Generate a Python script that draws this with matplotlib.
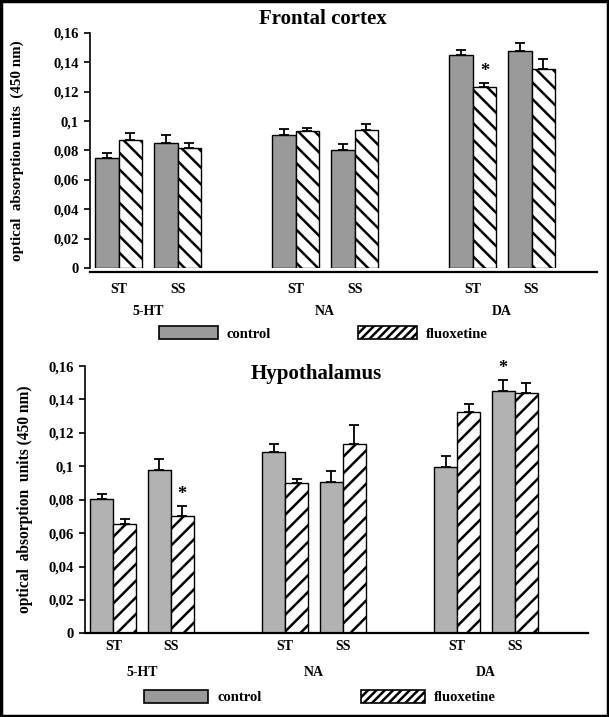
import matplotlib
matplotlib.use('Agg')
import matplotlib.pyplot as plt
from matplotlib.patches import Patch, Rectangle
import numpy as np

plt.rcParams['font.family'] = ['Liberation Serif', 'DejaVu Serif']
plt.rcParams['font.weight'] = 'bold'
plt.rcParams['axes.labelweight'] = 'bold'
plt.rcParams['hatch.linewidth'] = 1.8

# categories
transmitters = ['5-HT', 'NA', 'DA']
regions = ['ST', 'SS']
yticks = [0, 0.02, 0.04, 0.06, 0.08, 0.1, 0.12, 0.14, 0.16]
ytick_labels = ['0', '0,02', '0,04', '0,06', '0,08', '0,1', '0,12', '0,14', '0,16']

# frontal cortex (order: 5-HT ST, 5-HT SS, NA ST, NA SS, DA ST, DA SS)
fc_control = [0.0752, 0.0853, 0.0905, 0.0802, 0.1448, 0.1480]
fc_control_err = [0.0030, 0.0050, 0.0040, 0.0045, 0.0038, 0.0050]
fc_fluox = [0.0870, 0.0818, 0.0930, 0.0938, 0.1235, 0.1356]
fc_fluox_err = [0.0052, 0.0030, 0.0023, 0.0043, 0.0025, 0.0068]
fc_stars = [None, None, None, None, 'fluox', None]

# hypothalamus
hy_control = [0.0802, 0.0975, 0.1088, 0.0903, 0.0995, 0.1450]
hy_control_err = [0.0034, 0.0066, 0.0046, 0.0066, 0.0066, 0.0065]
hy_fluox = [0.0652, 0.0705, 0.0902, 0.1133, 0.1325, 0.1438]
hy_fluox_err = [0.0033, 0.0058, 0.0022, 0.0115, 0.0050, 0.0060]
hy_stars = [None, 'fluox', None, None, None, 'control']

pos = np.array([g * 3 + r for g in range(len(transmitters)) for r in range(len(regions))], dtype=float)
width = 0.4


def draw_panel(ax, title, control, control_err, fluox, fluox_err, stars,
               ctrl_color, hatch, ylabel, xlim, tick_pad, group_y, title_y, label_size):
    ekw = dict(ecolor='black', elinewidth=1.3, capsize=3.5, capthick=1.3)
    ax.bar(pos - width / 2, control, width, color=ctrl_color, edgecolor='black', linewidth=1.0,
           yerr=[np.zeros(len(control)), control_err], error_kw=ekw, zorder=2)
    ax.bar(pos + width / 2, fluox, width, color='white', edgecolor='black', linewidth=1.0,
           hatch=hatch, yerr=[np.zeros(len(fluox)), fluox_err], error_kw=ekw, zorder=2)
    for i, s in enumerate(stars):
        if s == 'fluox':
            ax.text(pos[i] + width / 2, fluox[i] + fluox_err[i] + 0.002, '*', ha='center', va='bottom', fontsize=13)
        elif s == 'control':
            ax.text(pos[i] - width / 2, control[i] + control_err[i] + 0.002, '*', ha='center', va='bottom', fontsize=13)

    ax.set_xlim(*xlim)
    ax.set_ylim(0, 0.16)
    ax.set_yticks(yticks)
    ax.set_yticklabels(ytick_labels, fontsize=10.5)
    ax.set_xticks(pos)
    ax.set_xticklabels(regions * len(transmitters), fontsize=10)
    ax.tick_params(axis='x', length=0, pad=tick_pad)
    ax.tick_params(axis='y', length=4, width=1.2, direction='out', pad=4)
    for sp in ['top', 'right']:
        ax.spines[sp].set_visible(False)
    ax.spines['left'].set_linewidth(1.2)
    ax.spines['bottom'].set_linewidth(1.6)
    ax.set_ylabel(ylabel, fontsize=label_size, fontweight='bold')
    for g, name in enumerate(transmitters):
        ax.text(g * 3 + 0.5, group_y, name, ha='center', va='center', fontsize=10,
                transform=ax.get_xaxis_transform())
    ax.text(0.46, title_y, title, ha='center', va='center', fontsize=15, transform=ax.transAxes)


fig = plt.figure(figsize=(6.09, 7.17), dpi=100)

ax1 = fig.add_axes([0.1478, 0.6262, 0.8325, 0.3278])
draw_panel(ax1, 'Frontal cortex', fc_control, fc_control_err, fc_fluox, fc_fluox_err, fc_stars,
           '#9a9a9a', '\\\\', 'optical  absorption units  (450 nm)', (-0.485, 8.11), 8, -0.183, 1.06, 10.8)
ax1.spines['bottom'].set_position(('outward', 3))
ax1.yaxis.set_label_coords(-0.13, 0.5)

ax2 = fig.add_axes([0.139, 0.1167, 0.8265, 0.3728])
draw_panel(ax2, 'Hypothalamus', hy_control, hy_control_err, hy_fluox, hy_fluox_err, hy_stars,
           '#b2b2b2', '//', 'optical  absorption  units (450 nm)', (-0.50, 8.28), 5, -0.145, 0.97, 11.2)
ax2.yaxis.set_label_coords(-0.103, 0.5)

leg_kw = dict(loc='center', ncol=2, frameon=False, fontsize=10.5, handlelength=4.0, handleheight=1.0,
              handletextpad=0.6, columnspacing=6.0)
fig.legend(handles=[Patch(facecolor='#9a9a9a', edgecolor='black', linewidth=1.2, label='control'),
                    Patch(facecolor='white', edgecolor='black', linewidth=1.2, hatch='////', label='fluoxetine')],
           bbox_to_anchor=(0.531, 0.535), **leg_kw)
leg_kw['columnspacing'] = 6.8
leg_kw['handlelength'] = 4.4
fig.legend(handles=[Patch(facecolor='#9a9a9a', edgecolor='black', linewidth=1.2, label='control'),
                    Patch(facecolor='white', edgecolor='black', linewidth=1.2, hatch='////', label='fluoxetine')],
           bbox_to_anchor=(0.525, 0.028), **leg_kw)

fig.patches.append(Rectangle((0.002, 0.002), 0.996, 0.996, transform=fig.transFigure,
                             fill=False, edgecolor='black', linewidth=2.5))

fig.savefig('out.png', dpi=100)
